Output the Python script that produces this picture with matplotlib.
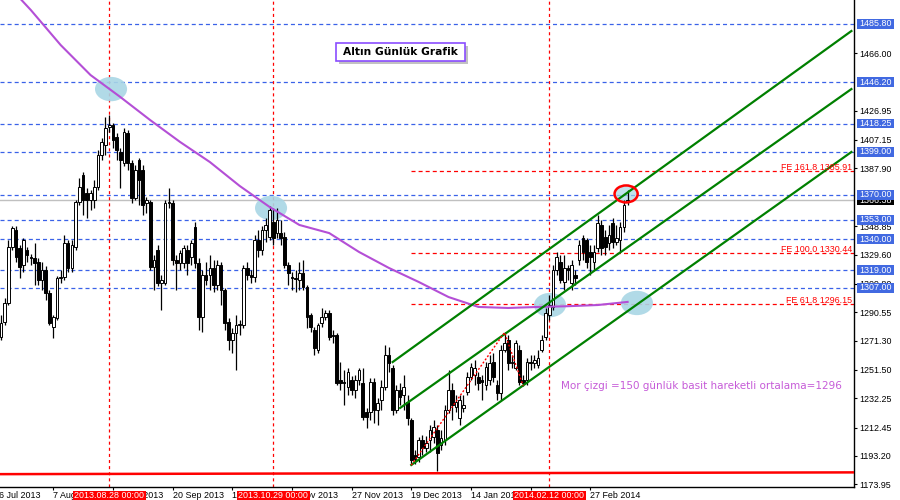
import numpy as np
import matplotlib
matplotlib.use("Agg")
import matplotlib.pyplot as plt
import matplotlib.transforms as mtransforms
from matplotlib.patches import Ellipse, Rectangle

plt.rcParams['font.family'] = ['Liberation Sans', 'DejaVu Sans']
plt.rcParams['lines.scale_dashes'] = False

# daily gold candles, Jul 2013 .. Mar 2014 (bar index 0..168)
opens = [1273.8, 1283.9, 1296.8, 1334.7, 1346.2, 1334.0, 1322.5, 1332.7, 1327.9, 1327.2,
         1324.5, 1312.3, 1319.1, 1303.5, 1280.5, 1286.6, 1313.7, 1314.4, 1337.4, 1320.5,
         1334.7, 1365.1, 1383.4, 1371.2, 1366.5, 1366.5, 1375.3, 1397.0, 1403.7, 1415.9,
         1417.3, 1409.2, 1399.0, 1391.6, 1411.9, 1391.6, 1367.9, 1393.6, 1386.8, 1364.5,
         1365.1, 1321.1, 1332.7, 1310.3, 1310.3, 1364.5, 1364.5, 1325.9, 1323.9, 1323.9,
         1332.7, 1327.9, 1348.2, 1323.9, 1287.3, 1315.7, 1315.7, 1320.5, 1309.0, 1322.5,
         1305.6, 1283.9, 1271.7, 1276.5, 1281.9, 1281.9, 1320.5, 1315.7, 1314.4, 1339.4,
         1332.7, 1346.2, 1341.4, 1351.6, 1344.1, 1344.1, 1341.4, 1322.5, 1314.4, 1313.7,
         1312.3, 1317.1, 1307.6, 1288.6, 1278.5, 1265.0, 1283.2, 1287.3, 1290.0, 1275.1,
         1275.1, 1244.6, 1243.3, 1239.9, 1244.6, 1237.9, 1244.6, 1242.6, 1223.0, 1223.0,
         1243.3, 1224.3, 1231.1, 1239.9, 1261.6, 1252.8, 1224.3, 1237.9, 1234.5, 1229.8,
         1217.6, 1193.9, 1192.5, 1204.0, 1198.6, 1204.0, 1206.0, 1210.8, 1200.6, 1204.0,
         1224.3, 1237.9, 1226.4, 1218.9, 1225.7, 1236.5, 1246.7, 1248.0, 1246.7, 1244.6,
         1241.3, 1244.6, 1256.8, 1241.3, 1235.8, 1265.0, 1271.7, 1256.2, 1252.8, 1265.0,
         1244.6, 1244.6, 1256.8, 1256.2, 1254.8, 1265.0, 1273.8, 1288.6, 1294.0, 1319.1,
         1324.5, 1311.0, 1320.5, 1310.3, 1315.7, 1325.9, 1340.8, 1339.4, 1331.3, 1324.5,
         1334.0, 1349.6, 1341.4, 1337.4, 1350.9, 1338.1, 1339.4, 1348.2, 1365.1]
highs = [1288.6, 1300.2, 1339.4, 1348.9, 1348.9, 1336.0, 1340.8, 1334.7, 1329.9, 1337.4,
         1327.2, 1324.5, 1321.8, 1305.6, 1288.6, 1315.0, 1319.1, 1342.8, 1339.4, 1339.4,
         1366.5, 1381.4, 1385.5, 1374.6, 1373.3, 1380.1, 1400.3, 1408.5, 1422.7, 1424.0,
         1418.6, 1411.9, 1401.7, 1415.2, 1413.9, 1393.6, 1390.2, 1394.9, 1390.2, 1368.5,
         1366.5, 1329.3, 1336.0, 1315.7, 1366.5, 1374.6, 1366.5, 1329.3, 1332.7, 1336.0,
         1336.0, 1339.4, 1351.6, 1327.2, 1319.1, 1324.5, 1329.3, 1325.9, 1325.9, 1324.5,
         1306.9, 1286.6, 1279.8, 1288.6, 1285.3, 1322.5, 1324.5, 1319.1, 1342.8, 1346.2,
         1348.9, 1354.3, 1362.4, 1361.1, 1361.1, 1353.0, 1344.8, 1324.5, 1317.8, 1319.1,
         1324.5, 1325.9, 1309.0, 1290.0, 1280.5, 1283.2, 1293.4, 1292.0, 1292.0, 1278.5,
         1276.5, 1256.8, 1251.4, 1252.8, 1247.3, 1248.0, 1252.8, 1252.8, 1225.7, 1246.0,
         1246.0, 1232.5, 1244.6, 1268.3, 1267.0, 1254.8, 1241.3, 1242.6, 1248.0, 1234.5,
         1218.9, 1197.2, 1206.0, 1207.4, 1206.7, 1214.2, 1217.6, 1214.2, 1210.8, 1227.7,
         1251.4, 1242.6, 1234.5, 1234.5, 1234.5, 1250.1, 1256.2, 1258.2, 1250.1, 1248.0,
         1256.8, 1261.6, 1262.9, 1244.6, 1268.3, 1277.1, 1275.1, 1261.6, 1271.7, 1268.3,
         1248.0, 1259.5, 1261.6, 1261.6, 1265.0, 1275.1, 1293.4, 1302.2, 1322.5, 1331.3,
         1329.3, 1329.3, 1322.5, 1325.9, 1319.1, 1339.4, 1342.8, 1340.8, 1336.0, 1336.0,
         1356.3, 1353.0, 1346.2, 1349.6, 1354.3, 1349.6, 1351.6, 1366.5, 1373.3]
lows = [1271.7, 1281.9, 1295.4, 1332.7, 1324.5, 1313.7, 1317.8, 1324.5, 1322.5, 1309.0,
        1309.0, 1305.6, 1298.8, 1281.9, 1273.1, 1285.3, 1310.3, 1312.3, 1317.8, 1317.8,
        1332.7, 1363.1, 1356.3, 1354.3, 1359.7, 1361.1, 1373.3, 1393.6, 1397.0, 1412.5,
        1401.7, 1393.6, 1374.6, 1389.5, 1386.8, 1364.5, 1366.5, 1363.1, 1356.3, 1357.7,
        1319.1, 1305.6, 1308.3, 1292.0, 1309.0, 1361.1, 1322.5, 1305.6, 1319.1, 1320.5,
        1315.7, 1322.5, 1320.5, 1278.5, 1277.1, 1309.0, 1305.6, 1304.2, 1305.6, 1295.4,
        1278.5, 1265.0, 1262.9, 1251.4, 1275.1, 1279.8, 1312.3, 1310.3, 1311.0, 1327.9,
        1329.3, 1338.1, 1339.4, 1336.0, 1340.8, 1336.0, 1320.5, 1309.0, 1305.6, 1304.2,
        1305.6, 1305.6, 1279.8, 1277.1, 1261.6, 1262.9, 1280.5, 1285.3, 1271.7, 1269.7,
        1241.3, 1237.9, 1227.7, 1234.5, 1234.5, 1232.5, 1241.3, 1217.6, 1212.1, 1217.6,
        1215.5, 1214.2, 1224.3, 1237.9, 1250.1, 1220.9, 1222.3, 1227.7, 1224.3, 1214.2,
        1187.0, 1188.0, 1189.1, 1193.9, 1195.9, 1195.9, 1202.0, 1183.0, 1197.2, 1200.6,
        1222.3, 1217.6, 1223.0, 1214.2, 1223.0, 1234.5, 1244.6, 1241.3, 1237.9, 1231.1,
        1237.9, 1241.3, 1243.3, 1231.1, 1231.1, 1263.6, 1251.4, 1252.8, 1251.4, 1241.3,
        1240.7, 1241.3, 1251.4, 1252.8, 1252.8, 1263.6, 1271.7, 1285.3, 1292.0, 1315.7,
        1310.3, 1305.6, 1312.3, 1305.6, 1309.0, 1322.5, 1325.9, 1320.5, 1315.7, 1319.1,
        1331.3, 1329.3, 1329.3, 1332.7, 1334.0, 1336.0, 1331.3, 1344.8, 1363.1]
closes = [1283.2, 1296.8, 1334.7, 1347.5, 1327.9, 1321.1, 1339.4, 1329.3, 1327.2, 1323.9,
          1312.3, 1319.1, 1303.5, 1283.2, 1287.3, 1313.7, 1314.4, 1337.4, 1320.5, 1336.0,
          1365.1, 1375.3, 1366.5, 1366.5, 1371.2, 1375.3, 1397.0, 1405.8, 1415.2, 1417.3,
          1407.1, 1400.3, 1393.6, 1412.5, 1391.6, 1367.9, 1386.8, 1380.1, 1363.1, 1366.5,
          1321.1, 1325.9, 1310.3, 1312.3, 1364.5, 1365.1, 1325.9, 1323.9, 1330.6, 1334.0,
          1323.9, 1337.4, 1323.9, 1287.3, 1315.7, 1312.3, 1320.5, 1309.0, 1322.5, 1305.6,
          1283.2, 1271.7, 1276.5, 1281.9, 1282.5, 1320.5, 1315.7, 1314.4, 1339.4, 1332.7,
          1346.2, 1349.6, 1359.7, 1340.8, 1353.0, 1340.8, 1322.5, 1317.1, 1313.7, 1313.0,
          1317.1, 1307.6, 1287.3, 1280.5, 1266.3, 1281.9, 1287.3, 1290.0, 1273.8, 1274.5,
          1242.6, 1242.6, 1242.8, 1250.1, 1237.9, 1244.6, 1251.4, 1219.6, 1219.6, 1243.3,
          1224.3, 1229.1, 1239.9, 1261.6, 1256.2, 1224.3, 1237.9, 1233.1, 1239.9, 1218.9,
          1190.5, 1191.0, 1204.0, 1198.6, 1202.0, 1210.8, 1212.8, 1195.2, 1205.4, 1224.3,
          1237.9, 1227.7, 1229.8, 1231.1, 1227.7, 1246.7, 1253.4, 1252.8, 1242.6, 1243.0,
          1253.4, 1256.2, 1246.7, 1235.8, 1265.0, 1269.7, 1256.2, 1256.8, 1269.7, 1243.3,
          1242.6, 1256.8, 1256.0, 1258.2, 1259.5, 1271.7, 1290.0, 1295.4, 1319.1, 1327.9,
          1312.3, 1320.5, 1319.1, 1322.5, 1313.7, 1336.0, 1331.3, 1324.5, 1327.9, 1331.3,
          1350.9, 1334.0, 1334.7, 1342.8, 1338.1, 1340.8, 1348.2, 1363.1, 1366.4]

# 150-day SMA, read every 8 bars
ma_bars = [0, 8, 16, 24, 32, 40, 48, 56, 64, 72, 80, 88, 96, 104, 112, 120, 128, 136, 144, 152, 160, 168]
ma_vals = [1516.8, 1495.1, 1471.4, 1451.1, 1436.2, 1420.6, 1405.8, 1392.2, 1376.0, 1361.8, 1349.6,
           1344.1, 1331.3, 1320.5, 1311.0, 1300.8, 1294.1, 1293.4, 1294.1, 1294.6, 1295.4, 1297.5]

blue_levels = [1485.80, 1446.20, 1418.25, 1399.00, 1370.00, 1353.00, 1340.00, 1319.00, 1307.00]
last_price = 1366.38
fe_levels = [1385.91, 1330.44, 1296.15]
fe_names = ['FE 161.8', 'FE 100.0', 'FE 61.8']
fe_start = 110
fe_pts_bar = [110, 135, 140]
fe_pts_price = [1187.0, 1276.8, 1240.7]

# channel lines (bar, price) start / end
chan_start = [(105, 1256.8), (107, 1225.7), (110, 1187.1)]
chan_end = [(228, 1480.9), (228, 1441.6), (228, 1399.0)]
support_bars = [-1, 229]
support_vals = [1180.9, 1182.1]

vline_bars = [29, 73, 147]
vline_labels = ['2013.08.28 00:00', '2013.10.29 00:00', '2014.02.12 00:00']

date_ticks = [-2, 14, 30, 46, 62, 78, 94, 110, 126, 142, 158]
date_labels = ['16 Jul 2013', '7 Aug 2013', '29 Aug 2013', '20 Sep 2013', '14 Oct 2013', '5 Nov 2013',
               '27 Nov 2013', '19 Dec 2013', '14 Jan 2014', '5 Feb 2014', '27 Feb 2014']
price_ticks = [1466.00, 1426.95, 1407.15, 1387.90, 1348.85, 1329.60, 1309.80, 1290.55,
               1271.30, 1251.50, 1232.25, 1212.45, 1193.20, 1173.95]

blob_bars = [29.5, 72.4, 147.2, 170.5]
blob_prices = [1441.6, 1361.1, 1295.4, 1296.8]
ring_bar, ring_price = 167.6, 1370.6

title = 'Altın Günlük Grafik'
note = 'Mor çizgi =150 günlük basit hareketli ortalama=1296'

fs = 6.4

fig = plt.figure(figsize=(9, 5), dpi=100)
ax = fig.add_axes([0, 13 / 500, 854 / 900, 487 / 500])
ax.set_xlim(-0.27, 228.7)
ax.set_ylim(1172.2, 1501.9)
for s in ['left', 'top']:
    ax.spines[s].set_visible(False)
for s in ['right', 'bottom']:
    ax.spines[s].set_linewidth(1)

ytr = mtransforms.blended_transform_factory(ax.transAxes, ax.transData)
xtr = mtransforms.blended_transform_factory(ax.transData, fig.transFigure)

# horizontal levels
for lv in blue_levels:
    ax.axhline(lv, color='#3a62e8', lw=0.9, dashes=(2.9, 2.2), zorder=1)
ax.axhline(last_price, color='#c0c0c0', lw=1, zorder=1)
for lv in fe_levels:
    ax.plot([fe_start, 228.7], [lv, lv], color='red', lw=0.9, dashes=(2.9, 2.2), zorder=1)
for b in vline_bars:
    ax.axvline(b, color='red', lw=0.9, dashes=(2.2, 2.2), zorder=1)

# highlight blobs
for b, p in zip(blob_bars, blob_prices):
    ax.add_patch(Ellipse((b, p), 8.6, 16.5, fc='#a9d6e5', ec='none', alpha=0.9, zorder=2))
ax.add_patch(Ellipse((ring_bar, ring_price), 6.2, 11.5, fc='#a9d6e5', ec='none', alpha=0.7, zorder=2))

# candles
idx = np.arange(len(closes))
o, h, l, c = (np.array(v) for v in (opens, highs, lows, closes))
up = c >= o
ax.vlines(idx, l, h, color='black', lw=0.9, zorder=3)
ax.bar(idx[up], np.maximum(c[up] - o[up], 0.3), bottom=o[up], width=0.72,
       color='white', edgecolor='black', lw=0.7, zorder=4)
ax.bar(idx[~up], o[~up] - c[~up], bottom=c[~up], width=0.72,
       color='black', edgecolor='black', lw=0.7, zorder=4)

ax.add_patch(Ellipse((ring_bar, ring_price), 6.2, 11.5, fc='none', ec='red', lw=1.8, zorder=6))

# moving average, channel, support, fibo expansion
ax.plot(ma_bars, ma_vals, color='#b44fd6', lw=1.5, zorder=5)
for (b0, p0), (b1, p1) in zip(chan_start, chan_end):
    ax.plot([b0, b1], [p0, p1], color='#008000', lw=1.6, zorder=5)
ax.plot(support_bars, support_vals, color='red', lw=1.8, zorder=5)
ax.plot(fe_pts_bar, fe_pts_price, color='red', lw=1, dashes=(1.4, 1.4), zorder=5)

for name, lv in zip(fe_names, fe_levels):
    ax.text(0.9975, lv + 0.8, f'{name} {lv:.2f}', transform=ytr, ha='right', va='baseline',
            color='red', fontsize=fs, zorder=6)

# axes ticks
ax.yaxis.tick_right()
ax.set_yticks(price_ticks)
ax.set_yticklabels([f'{p:.2f}' for p in price_ticks])
ax.tick_params(axis='y', length=2.5, width=0.8, pad=1.5, labelsize=fs)
ax.set_xticks([t for t in date_ticks if t >= 0])
ax.tick_params(axis='x', length=2.5, width=0.8, labelbottom=False)
for t, lab in zip(date_ticks, date_labels):
    ax.text(t, 0.010, lab, transform=xtr, ha='left', va='center', fontsize=fs, clip_on=False)

# right axis price boxes
ax.add_patch(Rectangle((1.0035, last_price - 3.3), 0.0433, 6.6, transform=ytr,
                       fc='black', ec='none', clip_on=False, zorder=7))
ax.text(1.0068, last_price, f'{last_price:.2f}', transform=ytr, ha='left', va='center',
        color='white', fontsize=fs, clip_on=False, zorder=8)
for lv in blue_levels:
    ax.add_patch(Rectangle((1.0035, lv - 3.3), 0.0433, 6.6, transform=ytr,
                           fc='#4169e1', ec='none', clip_on=False, zorder=9))
    ax.text(1.0068, lv, f'{lv:.2f}', transform=ytr, ha='left', va='center',
            color='white', fontsize=fs, clip_on=False, zorder=10)

# date boxes on time axis
for b, lab in zip(vline_bars, vline_labels):
    ax.add_patch(Rectangle((b - 9.8, 0), 19.6, 0.018, transform=xtr,
                           fc='red', ec='none', clip_on=False, zorder=9))
    ax.text(b, 0.009, lab, transform=xtr, ha='center', va='center', color='white',
            fontsize=fs, clip_on=False, zorder=10)

# title box
ax.add_patch(Rectangle((0.3969, 0.8685), 0.1511, 0.037, transform=ax.transAxes,
                       fc='#9a9a9a', ec='none', alpha=0.6, zorder=7))
ax.add_patch(Rectangle((0.3934, 0.8747), 0.1511, 0.037, transform=ax.transAxes,
                       fc='white', ec='#8a4dff', lw=1.2, zorder=8))
ax.text(0.469, 0.893, title, transform=ax.transAxes, ha='center', va='center',
        fontsize=7.7, fontweight='bold', family='DejaVu Sans', zorder=9)

ax.text(0.657, 0.207, note, transform=ax.transAxes, ha='left', va='center',
        fontsize=7.5, color='#c65bd8', family='DejaVu Sans', zorder=6)

fig.savefig('out.png', dpi=100)
